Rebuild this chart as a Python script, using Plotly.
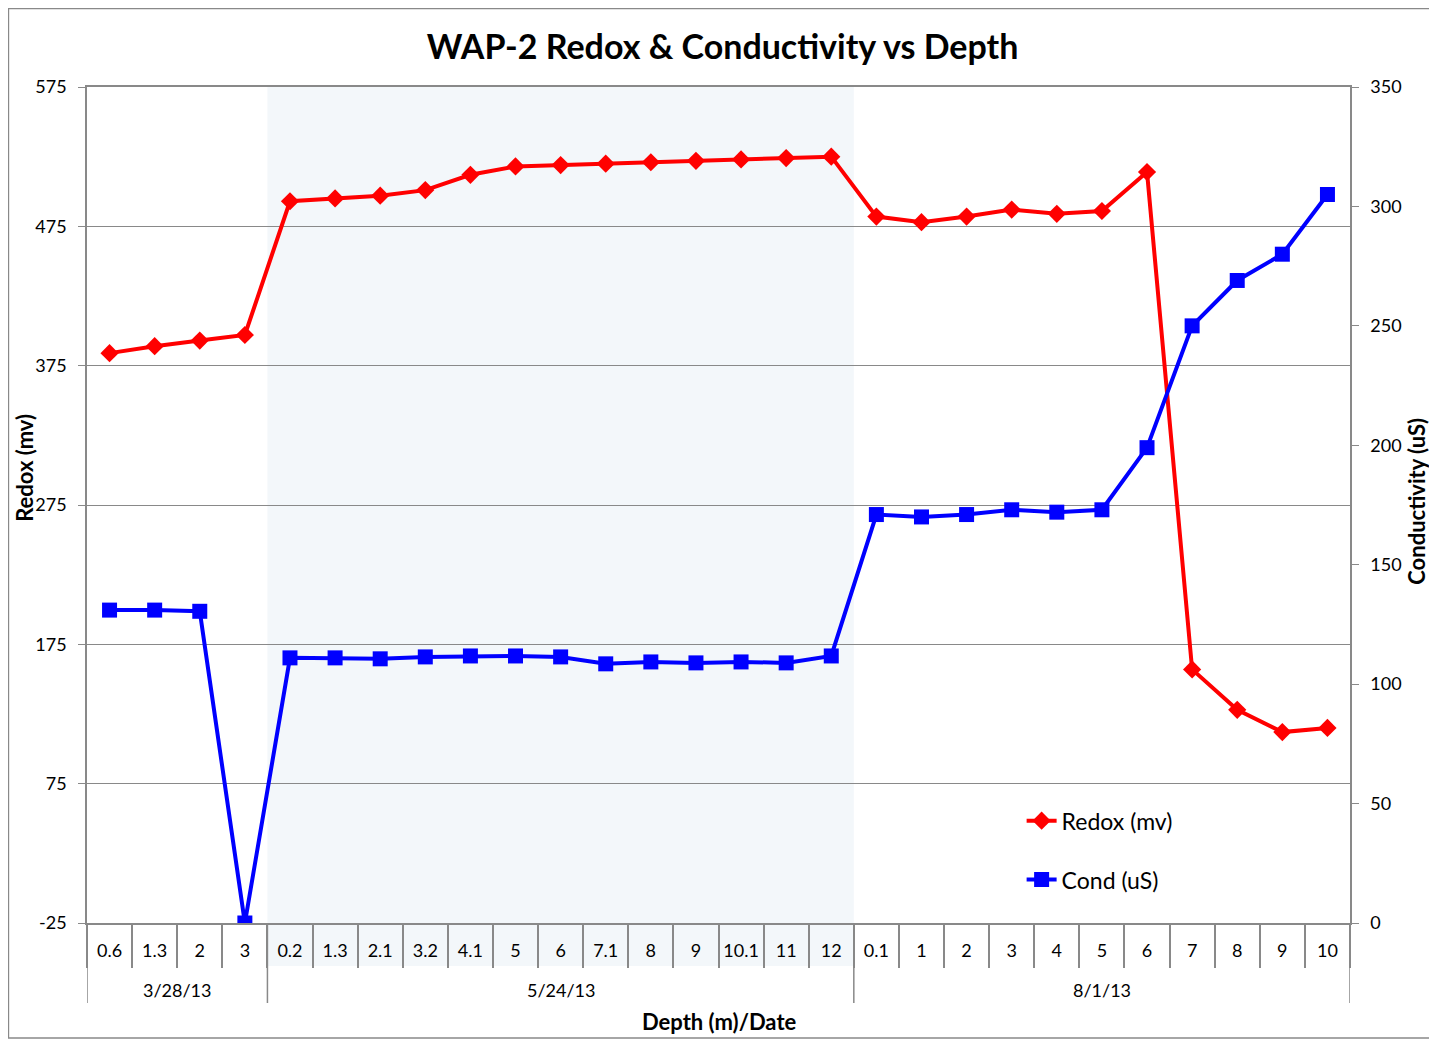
import plotly.graph_objects as go

# depth (m) at each sampling date
dates = ["3/28/13", "5/24/13", "8/1/13"]
depths_0328 = ["0.6", "1.3", "2", "3"]
depths_0524 = ["0.2", "1.3", "2.1", "3.2", "4.1", "5", "6", "7.1", "8", "9", "10.1", "11", "12"]
depths_0801 = ["0.1", "1", "2", "3", "4", "5", "6", "7", "8", "9", "10"]

redox_0328 = [384, 389, 393, 397]
redox_0524 = [493, 495, 497, 501, 512, 518, 519, 520, 521, 522, 523, 524, 525]
redox_0801 = [482, 478, 482, 487, 484, 486, 514, 157, 128, 112, 115]

cond_0328 = [131, 131, 130.5, 0]
cond_0524 = [111, 111, 110.6, 111.4, 111.8, 111.8, 111.4, 108.5, 109.3, 108.9, 109.3, 108.9, 111.8]
cond_0801 = [171, 170, 171, 173, 172, 173, 199, 250, 269, 280, 305]

redox_ticks = [-25, 75, 175, 275, 375, 475, 575]
cond_ticks = [0, 50, 100, 150, 200, 250, 300, 350]

groups = [depths_0328, depths_0524, depths_0801]
x_depth = [v for g in groups for v in g]
xi = list(range(len(x_depth)))
redox = redox_0328 + redox_0524 + redox_0801
cond = cond_0328 + cond_0524 + cond_0801

FONT = "Lato, 'Open Sans', sans-serif"
GRAY = "#898989"

fig = go.Figure()
fig.add_trace(go.Scatter(x=xi, y=redox, name="Redox (mv)", mode="lines+markers",
                         line=dict(color="#ff0000", width=4),
                         marker=dict(symbol="diamond", size=14, color="#ff0000"),
                         legendgroup="a"))
fig.add_trace(go.Scatter(x=xi, y=cond, name="Cond (uS)", mode="lines+markers",
                         line=dict(color="#0000ff", width=4),
                         marker=dict(symbol="square", size=15, color="#0000ff"),
                         legendgroup="b", yaxis="y2"))

# group boundaries (category index space)
bounds = [-0.5]
for g in groups:
    bounds.append(bounds[-1] + len(g))

# shaded band behind the 5/24/13 group
fig.add_shape(type="rect", xref="x", yref="paper", x0=bounds[1], x1=bounds[2], y0=-0.0515, y1=1,
              fillcolor="#f3f7fa", line_width=0, layer="below")
# group dividers and date labels
for b in bounds:
    fig.add_shape(type="line", xref="x", yref="paper", x0=b, x1=b, y0=0, y1=-0.0957,
                  line=dict(color=GRAY, width=1.5))
for d, a, b in zip(dates, bounds[:-1], bounds[1:]):
    fig.add_annotation(text=d, x=(a + b) / 2, xref="x", y=-0.0805, yref="paper",
                       showarrow=False, font=dict(size=18), yanchor="middle")
# axis titles
fig.add_annotation(text="<b>Depth (m)/Date</b>", x=0.5, xref="paper", y=-0.1184, yref="paper",
                   showarrow=False, font=dict(size=22), yanchor="middle")
fig.add_annotation(text="<b>Redox (mv)</b>", x=-0.0495, xref="paper", y=0.545, yref="paper",
                   showarrow=False, font=dict(size=22), textangle=-90, xanchor="center")
fig.add_annotation(text="<b>Conductivity (uS)</b>", x=1.0531, xref="paper", y=0.504, yref="paper",
                   showarrow=False, font=dict(size=22), textangle=-90, xanchor="center")
# chart border
fig.add_shape(type="rect", xref="paper", yref="paper", x0=-0.0622, x1=1.0657, y0=-0.1376, y1=1.0939,
              line=dict(color=GRAY, width=1.5), fillcolor="rgba(0,0,0,0)")

fig.update_layout(
    width=1429, height=1033,
    margin=dict(l=79, r=87, t=79, b=118),
    paper_bgcolor="white", plot_bgcolor="rgba(0,0,0,0)",
    font=dict(family=FONT, size=18, color="#000"),
    title=dict(text="<b>WAP-2 Redox & Conductivity vs Depth</b>", x=0.5, xanchor="center",
               y=0.9625, yanchor="middle", font=dict(size=34)),
    showlegend=True,
    legend=dict(x=0.740, y=0.148, xanchor="left", yanchor="top", tracegroupgap=26,
                bgcolor="rgba(0,0,0,0)", font=dict(size=23)),
    xaxis=dict(range=[-0.5, len(xi) - 0.5], tickmode="array", tickvals=xi, ticktext=x_depth,
               ticks="", ticklabelstandoff=11, showline=True, mirror=True, linecolor=GRAY,
               linewidth=1.5, showgrid=False, zeroline=False, tickfont=dict(size=18),
               minor=dict(tickmode="linear", tick0=-0.5, dtick=1, ticks="outside", ticklen=43,
                          tickcolor=GRAY, tickwidth=1.5, showgrid=False)),
    yaxis=dict(range=[-25, 575], tickmode="array", tickvals=redox_ticks,
               ticktext=[str(v) for v in redox_ticks], showline=True, linecolor=GRAY, linewidth=1.5,
               ticks="outside", ticklen=7, tickcolor=GRAY, gridcolor=GRAY, gridwidth=1,
               ticklabelstandoff=8, zeroline=False, tickfont=dict(size=18)),
    yaxis2=dict(range=[0, 350], tickmode="array", tickvals=cond_ticks, overlaying="y", side="right",
                showline=True, linecolor=GRAY, linewidth=1.5, ticks="outside", ticklen=7,
                tickcolor=GRAY, ticklabelstandoff=8, showgrid=False, zeroline=False,
                tickfont=dict(size=18)),
)

fig.write_html("out.html")
